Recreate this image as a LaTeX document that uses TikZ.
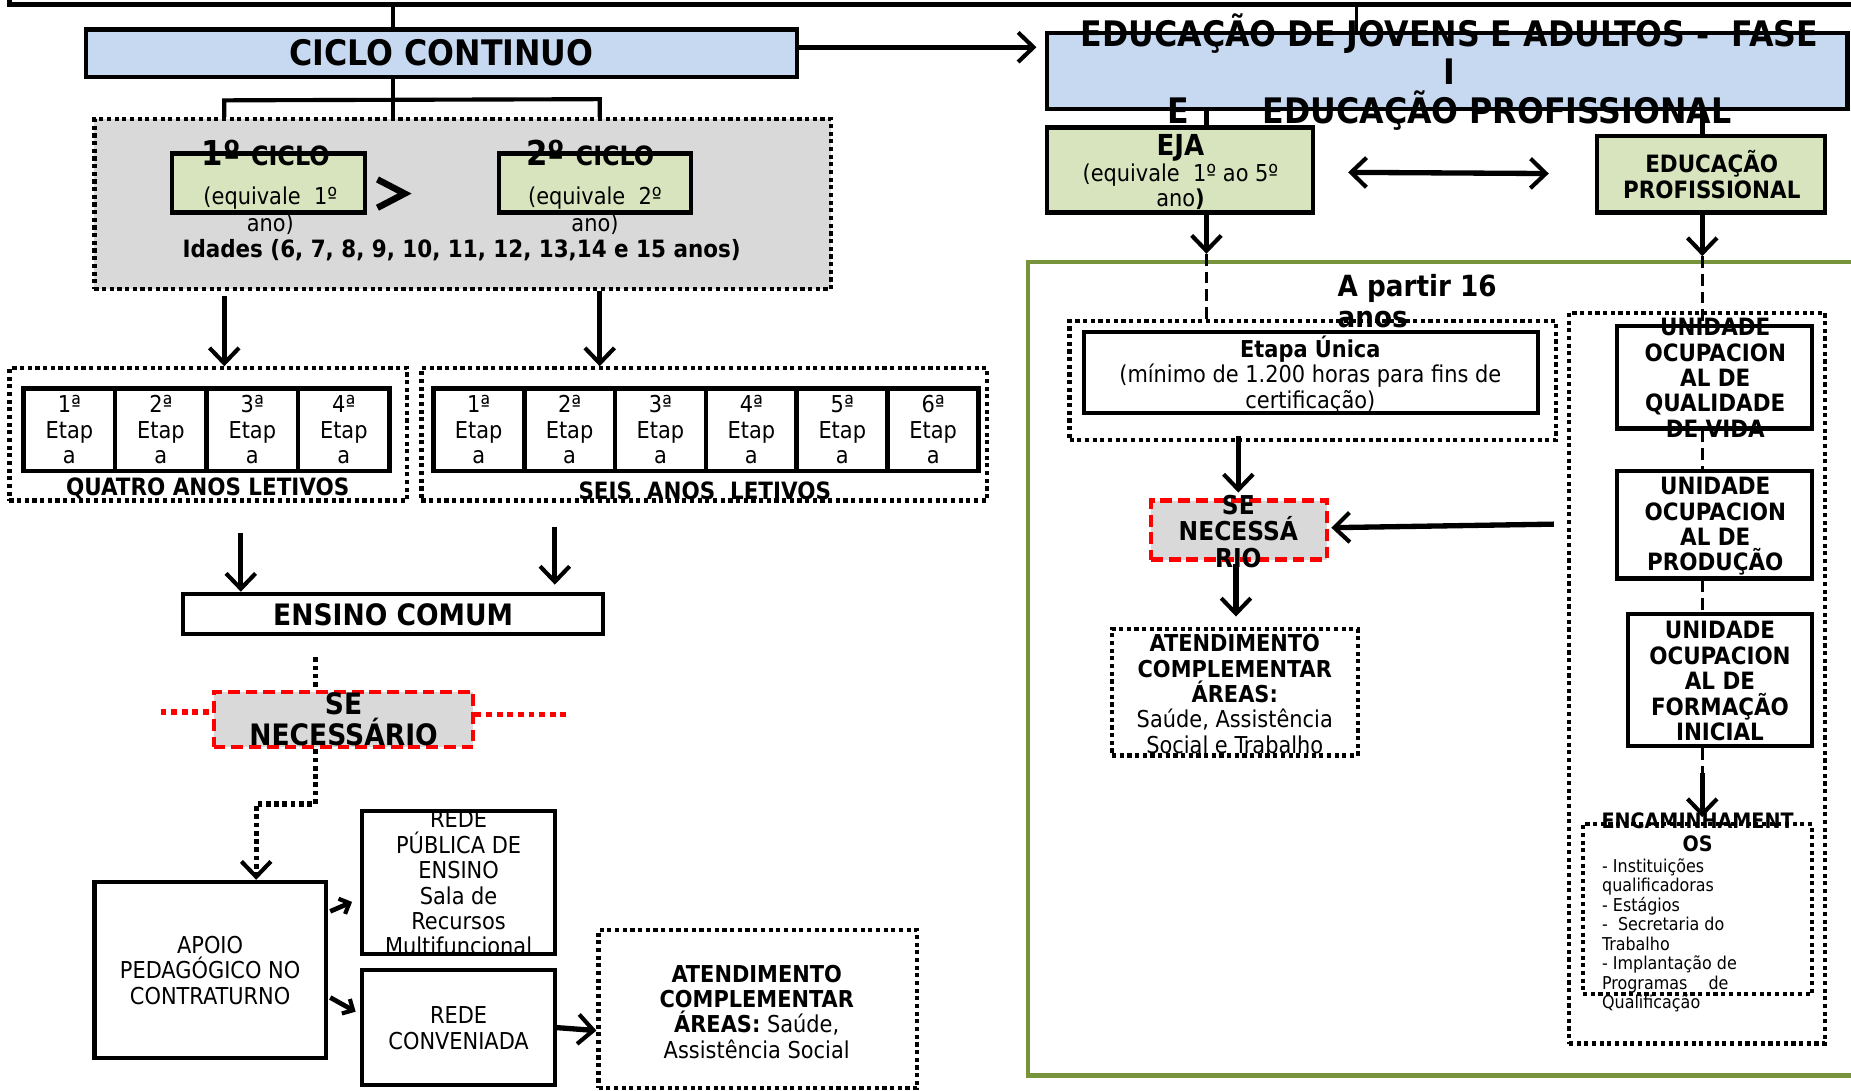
\documentclass[tikz,border=0pt]{standalone}
\usepackage{fontspec}
\setmainfont{DejaVu Sans Condensed}[BoldFont={DejaVu Sans Condensed Bold}]
\usetikzlibrary{arrows.meta,calc}
\definecolor{lblue}{HTML}{C6D9F1}
\definecolor{lgreen}{HTML}{D7E4BD}
\definecolor{lgray}{HTML}{D9D9D9}
\definecolor{ogreen}{HTML}{77933C}
\newcommand\nf{\fontsize{19.7}{21.5}\selectfont}
\newcommand\bfn{\fontsize{20.2}{21.5}\selectfont\bfseries}
\newcommand\ttl{\fontsize{29.8}{32.5}\selectfont\bfseries}
\newcommand\apf{\fontsize{24.7}{26}\selectfont\bfseries}
\newcommand\sbf{\fontsize{22}{22.5}\selectfont\bfseries}
\newcommand\ebf{\fontsize{25}{26}\selectfont\bfseries}
\newcommand\encf{\fontsize{18}{20}\selectfont\bfseries}
\newcommand\lstf{\fontsize{15}{16.5}\selectfont}
\newcommand\mybox[6]{\node[#1, minimum width={(#5)-(#3)}, minimum height={(#6)-(#4)}] (#2) at ({((#3)+(#5))/2},{((#4)+(#6))/2}) {};}
\tikzset{
 box/.style={draw=black, line width=3.5pt, inner sep=0pt},
 dotbox/.style={draw=black, line width=3.5pt, dash pattern=on 3.5pt off 3pt, inner sep=0pt},
 redbox/.style={draw=red, line width=3.5pt, dash pattern=on 10pt off 5pt, fill=lgray, inner sep=0pt},
 txt/.style={inner sep=0pt, align=center, font=\nf},
 >={Straight Barb[length=13pt,width=25pt,line width=3.5pt]},
 arr/.style={line width=4.5pt, ->},
 sarr/.style={line width=4pt, -{Straight Barb[length=7pt,width=14pt,line width=3.5pt]}},
 conn/.style={line width=4pt},
 dashconn/.style={line width=3pt, dash pattern=on 10pt off 5pt},
 dotconn/.style={line width=4.5pt, dash pattern=on 4pt off 3pt},
 reddot/.style={draw=red, line width=4.5pt, dash pattern=on 5pt off 4pt},
}
\begin{document}
\begin{tikzpicture}[x=1pt,y=-1pt]
\useasboundingbox (0,0) rectangle (1568,924);
% top frame line
\coordinate (tl) at (8,-5);
\coordinate (tlc) at (8,4);
\coordinate (tr) at (1575,4);
\draw[line width=4.5pt] (tl) -- (tlc) -- (tr);

% ---------- right part ----------
\mybox{draw=ogreen,line width=3.5pt,inner sep=0pt}{frame}{871}{222}{1585}{911}
\mybox{box,fill=lblue}{ciclo}{73}{25}{675}{65}
\node[txt,font=\ttl] (ciclot) at (ciclo) {CICLO CONTINUO};
\mybox{box,fill=lblue}{eja0}{887}{28}{1565}{92}
\node[txt,font=\ttl] (eja0t) at (1228,61) {EDUCAÇÃO DE JOVENS E ADULTOS -\ \ FASE\\I\\E\hspace{62pt}EDUCAÇÃO PROFISSIONAL};
\coordinate (xc) at (333,0);
\coordinate (xe) at (1149,0);
\draw[line width=4pt] (tlc -| xc) -- (ciclo.north -| xc);
\draw[line width=3pt] (tlc -| xe) -- (eja0.north -| xe);
\coordinate (ya) at (0,40);
\coordinate (xb) at (878,0);
\draw[arr] (ciclo.east |- ya) -- (ya -| xb);

\mybox{box,fill=lgreen}{eja}{887}{108}{1112}{180}
\node[txt] (ejat) at (1000,146) {{\fontsize{24.5}{25}\selectfont\bfseries EJA}\\(equivale\ \ 1º ao 5º\\ano\textbf{)}};
\mybox{box,fill=lgreen}{ep}{1353}{115}{1546}{180}
\node[txt,font=\bfn] (ept) at (1450,148) {EDUCAÇÃO\\PROFISSIONAL};
\coordinate (xj) at (1022,0);
\coordinate (xp) at (1442,0);
\draw[conn] (eja0.south -| xj) -- (eja.north -| xj);
\draw[conn] (eja0.south -| xp) -- (ep.north -| xp);
\coordinate (d1) at (1142,146);
\coordinate (d2) at (1312,147);
\draw[line width=4.5pt,<->] (d1) -- (d2);

\mybox{dotbox}{etapad}{906}{272}{1318}{373}
\mybox{box,fill=white}{etapa}{918}{281}{1303}{350}
\node[txt] (etapat) at (1110,317) {\textbf{Etapa Única}\\(mínimo de 1.200 horas para fins de\\certificação)};
\coordinate (ja) at (1022,215);
\draw[arr] (eja.south -| xj) -- (ja);
\draw[dashconn] (ja) -- (etapad.north -| xj);
\node[txt,font=\apf,align=left,anchor=west] (apt) at (1133,255) {A partir 16\\anos};

\mybox{dotbox}{colr}{1329}{265}{1546}{884}
\mybox{box,fill=white}{u1}{1370}{276}{1535}{363}
\mybox{box,fill=white}{u2}{1370}{399}{1535}{490}
\mybox{box,fill=white}{u3}{1379}{520}{1535}{632}
\mybox{dotbox}{enc}{1341}{698}{1535}{842}
\coordinate (pa) at (1442,217);
\draw[arr] (ep.south -| xp) -- (pa);
\draw[dashconn] (pa) -- (u1.north -| xp);
\draw[dashconn] (u1.south -| xp) -- (u2.north -| xp);
\draw[dashconn] (u2.south -| xp) -- (u3.north -| xp);
\coordinate (ea) at (1442,655);
\draw[dashconn] (u3.south -| xp) -- (ea);
\draw[arr] (ea) -- ($(enc.north -| xp)+(0,-4)$);
\node[txt,font=\bfn] (u1t) at (1453,320) {UNIDADE\\OCUPACION\\AL DE\\QUALIDADE\\DE VIDA};
\node[txt,font=\bfn] (u2t) at (1453,446) {UNIDADE\\OCUPACION\\AL DE\\PRODUÇÃO};
\node[txt,font=\bfn] (u3t) at (1457,577) {UNIDADE\\OCUPACION\\AL DE\\FORMAÇÃO\\INICIAL};
\node[txt,font=\encf] (enct) at (1438,705) {ENCAMINHAMENT\\OS};
\node[txt,font=\lstf,align=left,anchor=north west] (encl) at (1357,727) {- Instituições\\qualificadoras\\- Estágios\\-\ \ Secretaria do\\Trabalho\\- Implantação de\\Programas\hspace{18pt}de\\Qualificação};

\mybox{redbox}{serr}{975}{424}{1124}{474}
\mybox{dotbox}{atr}{942}{533}{1150}{640}
\coordinate (xs) at (1049,0);
\coordinate (xs2) at (1047,0);
\draw[arr] ($(etapad.south -| xs)+(0,-5)$) -- ($(serr.north -| xs)+(0,-5)$);
\coordinate (ys) at (0,444);
\coordinate (ys2) at (0,447);
\draw[arr] ($(colr.west |- ys)+(-11,0)$) -- ($(serr.east |- ys2)+(2,0)$);
\draw[arr] ($(serr.south -| xs2)+(0,2)$) -- ($(atr.north -| xs2)+(0,-9)$);
\node[txt,font=\sbf] (serrt) at (1049,450) {SE\\NECESSÁ\\RIO};
\node[txt] (atrt) at (1046,588) {\textbf{ATENDIMENTO}\\\textbf{COMPLEMENTAR}\\\textbf{ÁREAS:}\\Saúde, Assistência\\Social e Trabalho};

% ---------- left part ----------
\mybox{dotbox,fill=lgray}{gray}{80}{101}{704}{245}
\draw[line width=4pt] (ciclo.south -| xc) -- (gray.north -| xc);
\coordinate (b1) at (190,85);
\coordinate (b2) at (508,84);
\draw[line width=3.5pt] (gray.north -| b1) -- (b1) -- (b2) -- (gray.north -| b2);
\mybox{box,fill=lgreen}{c1}{146}{130}{309}{180}
\mybox{box,fill=lgreen}{c2}{423}{130}{585}{180}
\node[txt,font=\fontsize{19.7}{23.5}\selectfont] (c1t) at (225,159) {{\fontsize{29}{26}\selectfont\bfseries 1º \fontsize{22.5}{21}\selectfont CICLO}\\[9pt]\hspace*{8pt}(equivale\ \ 1º\\\hspace*{8pt}ano)};
\node[txt,font=\fontsize{19.7}{23.5}\selectfont] (c2t) at (500,159) {{\fontsize{29}{26}\selectfont\bfseries 2º \fontsize{22.5}{21}\selectfont CICLO}\\[9pt]\hspace*{8pt}(equivale\ \ 2º\\\hspace*{8pt}ano)};
\draw[line width=5.5pt,line join=miter] ($(c1.east)+(9,-3)$) -- ($(c1.east)+(32,9)$) -- ($(c1.east)+(9,21)$);
\node[txt,font=\bfn] (idt) at (391,212) {Idades (6, 7, 8, 9, 10, 11, 12, 13,14 e 15 anos)};

\mybox{dotbox}{qd}{8}{312}{345}{424}
\mybox{dotbox}{sd}{357}{312}{836}{424}
\foreach \i in {1,...,4}{
  \pgfmathsetmacro\xa{20+(\i-1)*77.5}
  \pgfmathsetmacro\xz{20+\i*77.5}
  \mybox{box,fill=white,line width=4pt}{qa\i}{\xa}{329}{\xz}{399}
  \node[txt] (qa\i t) at (qa\i) {\i ª\\Etap\\a};
}
\foreach \i in {1,...,6}{
  \pgfmathsetmacro\xa{367+(\i-1)*77}
  \pgfmathsetmacro\xz{367+\i*77}
  \mybox{box,fill=white,line width=4pt}{sb\i}{\xa}{329}{\xz}{399}
  \node[txt] (sb\i t) at (sb\i) {\i ª\\Etap\\a};
}
\node[txt,font=\bfn] (qt) at (176,414) {QUATRO ANOS LETIVOS};
\node[txt,font=\bfn] (st) at (597,416) {SEIS\ \ ANOS\ \ LETIVOS};
\coordinate (xq) at (190,0);
\coordinate (xsx) at (508,0);
\draw[arr] ($(gray.south -| xq)+(0,4)$) -- (qd.north -| xq);
\draw[arr] (gray.south -| xsx) -- (sd.north -| xsx);

\mybox{box,fill=white}{ens}{155}{503}{511}{537}
\node[txt,font=\ebf] (enst) at (333,521) {ENSINO COMUM};
\coordinate (xq2) at (204,0);
\coordinate (xs3) at (470,0);
\draw[arr] ($(qd.south -| xq2)+(0,26)$) -- (ens.north -| xq2);
\draw[arr] ($(sd.south -| xs3)+(0,21)$) -- ($(ens.north -| xs3)+(0,-6)$);

\mybox{redbox}{sel}{181}{586}{401}{633}
\coordinate (xd) at (267,0);
\draw[dotconn] ($(ens.south -| xd)+(0,18)$) -- (sel.north -| xd);
\coordinate (rl) at (136,603);
\coordinate (rr) at (483,605);
\draw[reddot] (rl) -- (sel.west |- rl);
\draw[reddot] (sel.east |- rr) -- (rr);
\node[txt,font=\ebf] (selt) at (291,609) {SE\\NECESSÁRIO};

\mybox{box,fill=white}{apo}{80}{747}{276}{896}
\mybox{box,fill=white}{rp}{307}{687}{470}{808}
\mybox{box,fill=white}{rc}{307}{822}{470}{919}
\mybox{dotbox}{atl}{507}{788}{777}{922}
\coordinate (yk) at (0,681);
\coordinate (xk) at (217,0);
\draw[dotconn,->] (sel.south -| xd) -- (yk -| xd) -- (yk -| xk) -- (apo.north -| xk);
\node[txt] (apot) at (178,822) {APOIO\\PEDAGÓGICO NO\\CONTRATURNO};
\begin{scope}
\clip ($(rp.north west)+(1.75,1.75)$) rectangle ($(rp.south east)+(-1.75,-1.75)$);
\node[txt] (rpt) at (388.5,748) {REDE\\PÚBLICA DE\\ENSINO\\Sala de\\Recursos\\Multifuncional};
\end{scope}
\node[txt] (rct) at (388.5,871) {REDE\\CONVENIADA};
\coordinate (y1) at (0,772);
\coordinate (y2) at (0,764);
\coordinate (y3) at (0,845);
\coordinate (y4) at (0,857);
\coordinate (y5) at (0,873);
\draw[sarr] ($(apo.east |- y1)+(2,0)$) -- ($(rp.west |- y2)+(-7,0)$);
\draw[sarr] ($(apo.east |- y3)+(2,0)$) -- ($(rc.west |- y4)+(-4,0)$);
\draw[arr] (rc.east) -- (atl.west |- y5);
\node[txt] (atlt) at (641,857) {\textbf{ATENDIMENTO}\\\textbf{COMPLEMENTAR}\\\textbf{ÁREAS:} Saúde,\\Assistência Social};
\end{tikzpicture}
\end{document}
